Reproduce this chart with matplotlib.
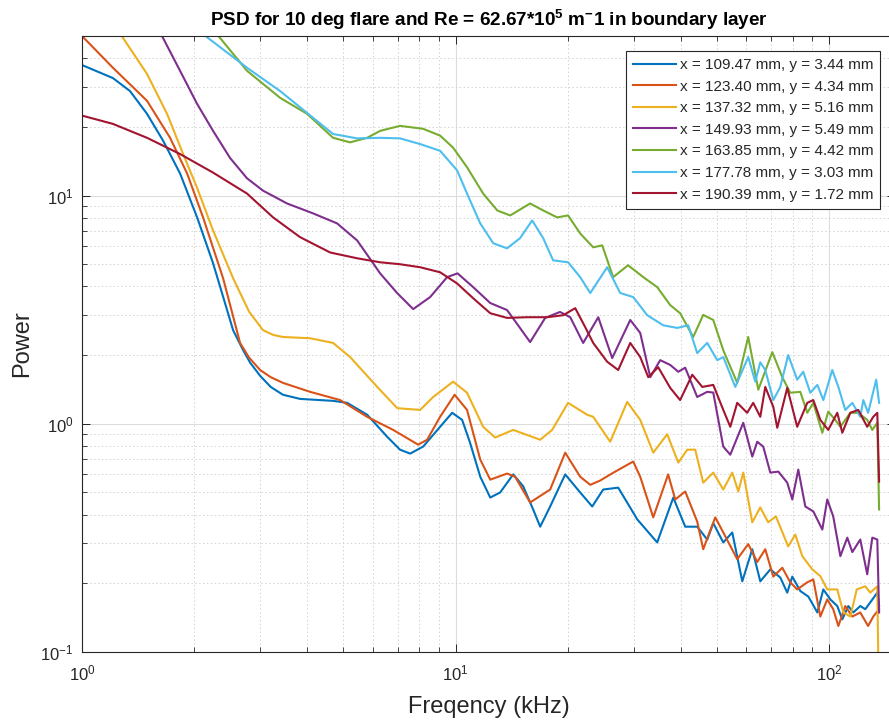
import numpy as np
import matplotlib
matplotlib.use('Agg')
import matplotlib.pyplot as plt
from matplotlib.ticker import LogLocator, NullFormatter

plt.rcParams['font.family'] = 'Liberation Sans'
plt.rcParams['mathtext.fontset'] = 'custom'
plt.rcParams['mathtext.rm'] = 'Liberation Sans'
plt.rcParams['mathtext.bf'] = 'Liberation Sans:bold'
plt.rcParams['mathtext.default'] = 'regular'

# ---- data (frequency kHz, power) ----
f_109 = [1.00, 1.21, 1.344, 1.493, 1.648, 1.83, 2.033, 2.243, 2.538, 2.7, 2.82, 3.0, 3.2, 3.45, 3.835, 4.70, 5.125, 5.80, 6.56, 7.10, 7.56, 8.19, 9.09,
         9.79, 10.41, 10.93, 11.64, 12.38, 13.16, 14.26, 15.16, 16.13, 16.84, 17.91, 19.65, 21.55, 23.21, 24.83, 27.24, 30.64, 34.64, 38.25, 41.17,
         44.33, 47.15, 48.94, 52.05, 55.02, 58.52, 62.24, 65.39, 69.55, 73.97, 77.21, 79.65, 83.68, 87.9, 92.96, 96.43, 100.7, 105.1, 108.4, 112.5,
         116.0, 121.1, 124.9, 128.8, 134.5, 136]
p_109 = [37.3, 32.7, 28.7, 22.8, 17.4, 12.5, 8.02, 5.05, 2.57, 2.1, 1.85, 1.62, 1.45, 1.34, 1.285, 1.26, 1.235, 1.095, 0.877, 0.77, 0.74, 0.795, 0.97,
         1.117, 1.04, 0.826, 0.586, 0.475, 0.50, 0.60, 0.533, 0.421, 0.354, 0.434, 0.60, 0.50, 0.434, 0.515, 0.525, 0.381, 0.302, 0.475, 0.354,
         0.354, 0.311, 0.367, 0.302, 0.334, 0.204, 0.282, 0.204, 0.23, 0.212, 0.182, 0.214, 0.185, 0.175, 0.149, 0.188, 0.17, 0.159, 0.139, 0.159,
         0.149, 0.159, 0.154, 0.165, 0.182, 0.159]

f_123 = [1.00, 1.21, 1.493, 1.721, 1.911, 2.109, 2.386, 2.649, 2.8, 2.997, 3.2, 3.453, 4.08, 4.91, 5.795, 6.805, 7.94, 8.39, 9.09, 9.94, 10.73, 11.64,
         12.38, 13.73, 14.43, 15.83, 17.91, 19.65, 21.55, 22.93, 24.38, 26.41, 29.88, 31.2, 33.81, 37.06, 38.72, 41.17, 44.33, 46.0, 49.55, 52.05,
         56.73, 60.7, 64.17, 67.43, 70.85, 74.89, 78.67, 82.1, 87.35, 90.67, 94.67, 98.8, 102.5, 105.8, 110.4, 115.3, 121.1, 127.1, 131.2, 136]
p_123 = [50, 36.3, 26.0, 17.9, 12.5, 8.02, 4.34, 2.26, 1.95, 1.72, 1.6, 1.51, 1.38, 1.27, 1.073, 0.94, 0.81, 0.851, 1.073, 1.34, 1.15, 0.697,
         0.569, 0.605, 0.586, 0.452, 0.515, 0.747, 0.586, 0.54, 0.564, 0.61, 0.683, 0.586, 0.389, 0.60, 0.466, 0.505, 0.373, 0.282, 0.389, 0.334,
         0.255, 0.297, 0.248, 0.282, 0.214, 0.234, 0.202, 0.188, 0.202, 0.208, 0.143, 0.17, 0.154, 0.13, 0.159, 0.143, 0.149, 0.13, 0.143, 0.154]

f_137 = [1.19, 1.288, 1.493, 1.689, 1.865, 2.033, 2.243, 2.538, 2.8, 3.053, 3.25, 3.453, 4.08, 4.70, 5.22, 6.17, 6.98, 8.04, 8.71, 9.85, 10.73, 11.85,
         12.76, 14.26, 16.84, 18.13, 20.0, 22.5, 23.35, 25.93, 28.79, 31.2, 33.81, 36.84, 39.45, 41.7, 43.79, 46.0, 48.94, 52.05, 55.02, 57.1,
         58.88, 62.24, 65.39, 68.65, 72.0, 77.66, 81.13, 84.72, 90.11, 94.67, 98.8, 105.1, 109.1, 113.9, 118.5, 124.9, 128.8, 134.5, 136]
p_137 = [60, 49, 34.1, 22.8, 15.2, 10.8, 7.03, 4.34, 3.1, 2.57, 2.45, 2.40, 2.37, 2.26, 1.96, 1.45, 1.17, 1.15, 1.31, 1.53, 1.367, 0.97,
         0.87, 0.94, 0.851, 0.94, 1.235, 1.095, 1.073, 0.834, 1.247, 1.04, 0.747, 0.90, 0.676, 0.77, 0.77, 0.552, 0.611, 0.515, 0.611, 0.505,
         0.611, 0.37, 0.43, 0.37, 0.393, 0.29, 0.327, 0.263, 0.23, 0.215, 0.188, 0.188, 0.149, 0.143, 0.188, 0.194, 0.182, 0.194, 0.05]

f_149 = [1.52, 1.648, 1.83, 2.033, 2.243, 2.491, 2.765, 3.053, 3.539, 4.156, 4.817, 5.449, 6.015, 6.28, 6.973, 7.70, 8.548, 9.49, 10.12, 11.14,
         12.38, 13.73, 14.87, 15.83, 17.37, 19.03, 20.27, 21.95, 24.09, 26.25, 29.34, 31.2, 33.19, 35.29, 37.54, 39.45, 41.17, 44.33, 47.15, 48.94,
         52.05, 54.35, 58.88, 62.24, 64.17, 66.6, 69.55, 73.1, 77.21, 79.65, 82.65, 86.3, 90.67, 95.84, 98.8, 102.5, 107.1, 111.8, 115.3, 121.1,
         126.4, 130.4, 134.5, 136]
p_149 = [63, 49, 35.2, 25.2, 19.2, 14.6, 11.9, 10.5, 9.23, 8.35, 7.55, 6.36, 5.05, 4.56, 3.74, 3.18, 3.59, 4.39, 4.56, 3.97,
         3.38, 3.15, 2.63, 2.28, 2.91, 3.09, 2.93, 2.26, 2.93, 1.94, 2.85, 2.50, 1.60, 1.90, 1.81, 1.69, 1.76, 1.31, 1.38, 1.37,
         0.794, 0.732, 1.01, 0.718, 0.834, 0.794, 0.611, 0.617, 0.552, 0.466, 0.63, 0.434, 0.413, 0.344, 0.466, 0.393, 0.263, 0.317, 0.274, 0.311,
         0.219, 0.317, 0.311, 0.149]

f_163 = [2.07, 2.342, 2.765, 3.39, 4.004, 4.70, 5.22, 5.795, 6.28, 7.10, 8.19, 9.09, 9.85, 10.73, 11.85, 12.93, 14.0, 15.83, 17.16, 18.69,
         20.0, 21.55, 23.35, 24.68, 26.41, 28.95, 31.79, 34.64, 37.54, 39.9, 43.25, 46.0, 48.94, 52.05, 56.73, 60.7, 64.6, 70.41, 74.89, 78.67,
         83.68, 87.35, 90.67, 95.84, 99.4, 103.8, 107.1, 113.9, 119.6, 126.4, 130.4, 134.5, 136]
p_163 = [62, 49, 35.2, 26.8, 22.8, 17.9, 17.1, 17.9, 19.2, 20.2, 19.6, 18.3, 16.2, 13.3, 10.2, 8.60, 8.18, 9.23, 8.60, 8.02,
         8.18, 6.82, 5.93, 6.05, 4.39, 4.95, 4.39, 3.97, 3.31, 3.05, 2.40, 3.0, 2.85, 2.10, 1.51, 2.40, 1.41, 2.06, 1.60, 1.367,
         1.38, 1.117, 1.235, 0.913, 1.13, 1.04, 0.97, 1.117, 1.117, 1.04, 0.94, 1.01, 0.421]

f_177 = [1.89, 2.175, 2.765, 3.39, 4.004, 4.70, 5.449, 6.28, 7.10, 8.04, 9.09, 10.09, 10.73, 11.64, 12.61, 13.73, 14.87, 16.03, 17.16, 18.24,
         20.0, 21.55, 22.93, 25.45, 27.58, 29.88, 32.58, 35.95, 39.2, 41.94, 44.33, 47.15, 50.16, 52.05, 56.06, 60.7, 63.4, 65.39, 67.43, 70.85,
         73.97, 77.66, 82.1, 85.2, 88.99, 92.96, 96.43, 101.9, 105.8, 110.4, 115.3, 121.1, 123.4, 127.1, 133.6, 136]
p_177 = [59, 49, 36.3, 28.7, 23.0, 18.6, 17.8, 17.9, 17.8, 16.8, 15.7, 12.9, 10.2, 7.55, 6.18, 5.87, 6.5, 7.78, 6.5, 5.20,
         5.1, 4.39, 3.74, 4.85, 3.74, 3.59, 2.99, 2.70, 2.63, 2.70, 2.04, 2.26, 1.90, 1.96, 1.45, 1.96, 1.53, 1.86, 1.72, 1.27,
         1.45, 2.0, 1.56, 1.69, 1.367, 1.48, 1.27, 1.72, 1.45, 1.15, 1.235, 1.073, 1.27, 1.117, 1.56, 1.235]

f_190 = [1.00, 1.21, 1.493, 1.83, 2.243, 2.765, 3.247, 3.835, 4.614, 5.449, 6.28, 7.10, 8.04, 9.09, 10.09, 11.14, 12.38, 13.73, 15.54, 17.58,
         19.41, 20.9, 22.23, 23.35, 25.45, 27.24, 29.34, 31.2, 32.78, 34.85, 37.54, 39.9, 42.99, 45.73, 48.94, 52.05, 54.35, 56.73, 60.3, 62.6,
         65.39, 67.43, 70.85, 72.6, 77.21, 82.1, 87.35, 90.67, 94.67, 99.4, 105.1, 108.4, 113.9, 119.6, 126.4, 131.2, 134.5, 136]
p_190 = [22.4, 20.6, 17.9, 15.2, 12.6, 10.2, 8.02, 6.57, 5.63, 5.31, 5.1, 5.0, 4.85, 4.61, 4.12, 3.55, 3.05, 2.91, 2.93, 2.93,
         2.99, 3.21, 2.65, 2.26, 1.87, 1.72, 2.26, 1.96, 1.60, 1.77, 1.436, 1.27, 1.64, 1.45, 1.48, 1.15, 0.97, 1.235, 1.117, 1.235,
         1.073, 1.45, 1.186, 0.96, 1.436, 0.97, 1.235, 1.27, 1.04, 0.94, 1.117, 0.913, 1.117, 1.15, 0.97, 1.073, 1.117, 0.558]

labels = ['x = 109.47 mm, y = 3.44 mm', 'x = 123.40 mm, y = 4.34 mm', 'x = 137.32 mm, y = 5.16 mm',
          'x = 149.93 mm, y = 5.49 mm', 'x = 163.85 mm, y = 4.42 mm', 'x = 177.78 mm, y = 3.03 mm',
          'x = 190.39 mm, y = 1.72 mm']
colors = ['#0072BD', '#D95319', '#EDB120', '#7E2F8E', '#77AC30', '#4DBEEE', '#A2142F']
series = [(f_109, p_109), (f_123, p_123), (f_137, p_137), (f_149, p_149),
          (f_163, p_163), (f_177, p_177), (f_190, p_190)]

fig = plt.figure(figsize=(8.89, 7.21), dpi=100)
ax = fig.add_axes([82/889, 69/721, (895-82)/889, (652-36)/721])

for (f, p), c, lab in zip(series, colors, labels):
    ax.plot(f, p, color=c, lw=1.5, label=lab, solid_joinstyle='round')

ax.set_xscale('log')
ax.set_yscale('log')
ax.set_xlim(1, 150)
ax.set_ylim(0.1, 50)

dark = '#262626'
ax.xaxis.set_minor_locator(LogLocator(base=10, subs=np.arange(2, 10)))
ax.yaxis.set_minor_locator(LogLocator(base=10, subs=np.arange(2, 10)))
ax.xaxis.set_minor_formatter(NullFormatter())
ax.yaxis.set_minor_formatter(NullFormatter())
ax.grid(True, which='major', color='#dcdcdc', lw=0.8, ls='-')
ax.grid(True, which='minor', color='#d2d2d2', lw=0.7, ls=(0, (1.5, 2.5)))
ax.set_axisbelow(True)
ax.tick_params(which='both', direction='in', top=True, right=True, colors=dark, labelsize=12)
ax.tick_params(which='major', length=5.5, width=0.7)
ax.tick_params(which='minor', length=3.5, width=0.6)
ax.tick_params(axis='x', pad=8)
ax.tick_params(axis='y', pad=6)
for s in ax.spines.values():
    s.set_color(dark)
    s.set_linewidth(0.8)

ax.set_title(r'PSD for 10 deg flare and Re = 62.67*10$^{5}$ m$^{-}$1 in boundary layer',
             fontsize=13.6, fontweight='bold', pad=7)
ax.set_xlabel('Freqency (kHz)', fontsize=17, color=dark, labelpad=9)
ax.set_ylabel('Power', fontsize=17, color=dark, labelpad=5)

leg = ax.legend(loc='upper right', bbox_to_anchor=(880/889, 1-51/721), bbox_transform=fig.transFigure,
                borderaxespad=0, fontsize=11, frameon=True, fancybox=False, framealpha=1,
                handlelength=2.8, handletextpad=0.26, labelspacing=0.5, borderpad=0.45)
leg.get_frame().set_edgecolor(dark)
leg.get_frame().set_linewidth(0.8)
for t in leg.get_texts():
    t.set_color(dark)

fig.savefig('out.png', dpi=100)
